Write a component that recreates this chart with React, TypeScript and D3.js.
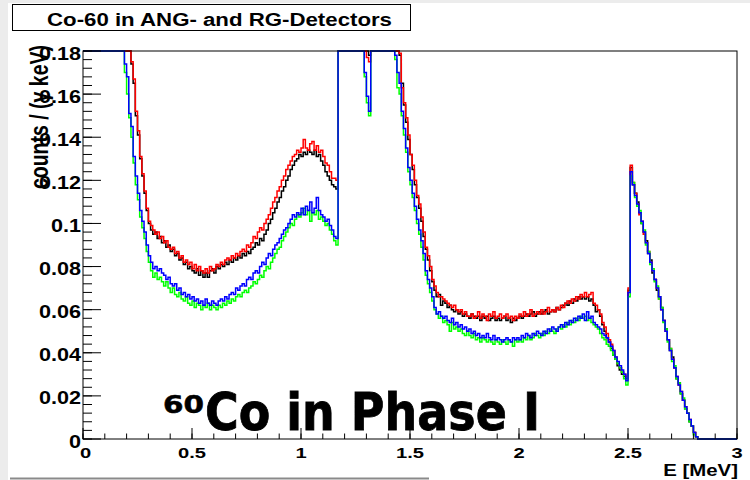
import React from "react";
import * as d3 from "d3";

// energy bins: 0.01 MeV wide, starting at 0 MeV; values in counts / (γ keV)
const binWidth = 0.01;
const xTickValues = [0, 0.5, 1, 1.5, 2, 2.5, 3];
const xTickLabels = ["0", "0.5", "1", "1.5", "2", "2.5", "3"];
const yTickValues = [0, 0.02, 0.04, 0.06, 0.08, 0.1, 0.12, 0.14, 0.16, 0.18];
const yTickLabels = ["0", "0.02", "0.04", "0.06", "0.08", "0.1", "0.12", "0.14", "0.16", "0.18"];

// values above 0.18 are off the scale and get clipped at the frame top
const blackCounts = [
  0.2, 0.2, 0.2, 0.2, 0.2, 0.2, 0.2, 0.2, 0.2, 0.2,
  0.2, 0.2, 0.2, 0.2, 0.2, 0.2, 0.2, 0.2, 0.2, 0.2,
  0.2, 0.2, 0.174, 0.165, 0.150, 0.141, 0.130, 0.122, 0.114, 0.106,
  0.100, 0.097, 0.095, 0.096, 0.093, 0.094, 0.091, 0.092, 0.089, 0.090,
  0.087, 0.088, 0.085, 0.086, 0.083, 0.084, 0.081, 0.082, 0.079, 0.080,
  0.078, 0.077, 0.079, 0.076, 0.078, 0.075, 0.077, 0.075, 0.078, 0.079,
  0.077, 0.080, 0.079, 0.081, 0.080, 0.082, 0.081, 0.083, 0.082, 0.084,
  0.083, 0.085, 0.084, 0.086, 0.085, 0.087, 0.086, 0.088, 0.089, 0.091,
  0.090, 0.093, 0.092, 0.095, 0.097, 0.100, 0.102, 0.105, 0.107, 0.110,
  0.112, 0.115, 0.117, 0.120, 0.122, 0.125, 0.127, 0.129, 0.130, 0.132,
  0.131, 0.133, 0.132, 0.134, 0.133, 0.132, 0.134, 0.131, 0.132, 0.129,
  0.127, 0.124, 0.122, 0.120, 0.118, 0.117, 0.116, 0.2, 0.2, 0.2,
  0.2, 0.2, 0.2, 0.2, 0.2, 0.2, 0.2, 0.2, 0.2, 0.2,
  0.2, 0.178, 0.2, 0.2, 0.2, 0.2, 0.2, 0.2, 0.2, 0.2,
  0.2, 0.2, 0.2, 0.2, 0.2, 0.178, 0.165, 0.155, 0.147, 0.139,
  0.132, 0.125, 0.118, 0.112, 0.107, 0.101, 0.094, 0.088, 0.083, 0.078,
  0.073, 0.069, 0.066, 0.067, 0.062, 0.064, 0.063, 0.061, 0.062, 0.060,
  0.059, 0.060, 0.058, 0.059, 0.057, 0.058, 0.057, 0.056, 0.058, 0.057,
  0.056, 0.057, 0.055, 0.057, 0.056, 0.057, 0.055, 0.056, 0.057, 0.055,
  0.056, 0.055, 0.056, 0.057, 0.055, 0.056, 0.054, 0.056, 0.055, 0.056,
  0.057, 0.056, 0.057, 0.058, 0.057, 0.058, 0.059, 0.057, 0.058, 0.059,
  0.058, 0.059, 0.060, 0.058, 0.059, 0.060, 0.059, 0.061, 0.060, 0.061,
  0.062, 0.063, 0.062, 0.064, 0.063, 0.065, 0.064, 0.066, 0.065, 0.066,
  0.065, 0.066, 0.064, 0.065, 0.062, 0.059, 0.060, 0.057, 0.053, 0.050,
  0.047, 0.045, 0.042, 0.039, 0.037, 0.034, 0.032, 0.030, 0.029, 0.028,
  0.069, 0.126, 0.118, 0.114, 0.110, 0.105, 0.100, 0.096, 0.092, 0.086,
  0.083, 0.077, 0.074, 0.069, 0.066, 0.061, 0.055, 0.051, 0.046, 0.041,
  0.038, 0.033, 0.028, 0.026, 0.021, 0.018, 0.014, 0.012, 0.008, 0.006,
  0.003, 0.001, 0, 0, 0, 0, 0, 0, 0, 0,
  0, 0, 0, 0, 0, 0, 0, 0, 0, 0,
];

const redCounts = [
  0.2, 0.2, 0.2, 0.2, 0.2, 0.2, 0.2, 0.2, 0.2, 0.2,
  0.2, 0.2, 0.2, 0.2, 0.2, 0.2, 0.2, 0.2, 0.2, 0.2,
  0.2, 0.2, 0.175, 0.167, 0.152, 0.143, 0.131, 0.123, 0.115, 0.107,
  0.101, 0.099, 0.097, 0.095, 0.096, 0.093, 0.094, 0.091, 0.092, 0.089,
  0.088, 0.089, 0.086, 0.087, 0.084, 0.085, 0.082, 0.083, 0.081, 0.082,
  0.079, 0.081, 0.078, 0.080, 0.078, 0.077, 0.079, 0.077, 0.080, 0.078,
  0.079, 0.081, 0.080, 0.082, 0.081, 0.083, 0.084, 0.083, 0.085, 0.084,
  0.086, 0.085, 0.087, 0.088, 0.087, 0.090, 0.089, 0.091, 0.094, 0.093,
  0.096, 0.098, 0.097, 0.100, 0.102, 0.104, 0.107, 0.110, 0.112, 0.115,
  0.117, 0.120, 0.122, 0.125, 0.127, 0.129, 0.131, 0.132, 0.134, 0.133,
  0.135, 0.139, 0.135, 0.134, 0.137, 0.138, 0.134, 0.136, 0.133, 0.134,
  0.131, 0.128, 0.127, 0.124, 0.121, 0.121, 0.120, 0.2, 0.2, 0.2,
  0.2, 0.2, 0.2, 0.2, 0.2, 0.2, 0.2, 0.2, 0.2, 0.2,
  0.177, 0.175, 0.2, 0.2, 0.2, 0.2, 0.2, 0.2, 0.2, 0.2,
  0.2, 0.2, 0.2, 0.2, 0.2, 0.179, 0.163, 0.156, 0.149, 0.141,
  0.132, 0.127, 0.120, 0.113, 0.109, 0.103, 0.096, 0.089, 0.085, 0.080,
  0.074, 0.071, 0.068, 0.066, 0.066, 0.065, 0.064, 0.063, 0.062, 0.061,
  0.062, 0.060, 0.059, 0.060, 0.058, 0.059, 0.057, 0.057, 0.058, 0.056,
  0.057, 0.059, 0.056, 0.058, 0.057, 0.055, 0.058, 0.057, 0.059, 0.056,
  0.057, 0.058, 0.056, 0.057, 0.058, 0.056, 0.057, 0.055, 0.057, 0.056,
  0.058, 0.057, 0.059, 0.057, 0.058, 0.060, 0.057, 0.058, 0.059, 0.058,
  0.060, 0.058, 0.059, 0.061, 0.059, 0.060, 0.059, 0.061, 0.060, 0.062,
  0.061, 0.063, 0.064, 0.063, 0.065, 0.064, 0.066, 0.065, 0.067, 0.066,
  0.068, 0.066, 0.067, 0.068, 0.063, 0.062, 0.060, 0.058, 0.054, 0.052,
  0.049, 0.046, 0.044, 0.041, 0.038, 0.035, 0.033, 0.031, 0.030, 0.029,
  0.070, 0.127, 0.119, 0.114, 0.109, 0.104, 0.101, 0.095, 0.091, 0.087,
  0.082, 0.078, 0.074, 0.070, 0.065, 0.060, 0.055, 0.050, 0.046, 0.042,
  0.037, 0.033, 0.029, 0.025, 0.022, 0.018, 0.015, 0.012, 0.009, 0.006,
  0.003, 0.001, 0, 0, 0, 0, 0, 0, 0, 0,
  0, 0, 0, 0, 0, 0, 0, 0, 0, 0,
];

const greenCounts = [
  0.2, 0.2, 0.2, 0.2, 0.2, 0.2, 0.2, 0.2, 0.2, 0.2,
  0.2, 0.2, 0.2, 0.2, 0.2, 0.2, 0.2, 0.2, 0.2, 0.170,
  0.160, 0.149, 0.140, 0.128, 0.118, 0.111, 0.103, 0.098, 0.093, 0.087,
  0.082, 0.078, 0.075, 0.077, 0.074, 0.075, 0.073, 0.071, 0.073, 0.070,
  0.068, 0.070, 0.067, 0.066, 0.068, 0.065, 0.064, 0.066, 0.063, 0.062,
  0.064, 0.061, 0.063, 0.062, 0.060, 0.062, 0.061, 0.063, 0.060, 0.062,
  0.061, 0.060, 0.062, 0.061, 0.063, 0.062, 0.064, 0.063, 0.065, 0.064,
  0.066, 0.067, 0.066, 0.068, 0.069, 0.068, 0.070, 0.071, 0.073, 0.072,
  0.074, 0.076, 0.075, 0.078, 0.080, 0.079, 0.082, 0.084, 0.086, 0.088,
  0.089, 0.092, 0.094, 0.096, 0.098, 0.100, 0.099, 0.102, 0.104, 0.103,
  0.105, 0.107, 0.104, 0.106, 0.101, 0.105, 0.104, 0.106, 0.102, 0.103,
  0.101, 0.099, 0.100, 0.097, 0.095, 0.092, 0.090, 0.2, 0.2, 0.2,
  0.2, 0.2, 0.2, 0.2, 0.2, 0.2, 0.2, 0.2, 0.2, 0.168,
  0.156, 0.150, 0.2, 0.2, 0.2, 0.2, 0.2, 0.2, 0.2, 0.2,
  0.2, 0.2, 0.2, 0.176, 0.163, 0.160, 0.150, 0.141, 0.133, 0.124,
  0.118, 0.112, 0.106, 0.100, 0.095, 0.089, 0.083, 0.076, 0.072, 0.068,
  0.064, 0.060, 0.058, 0.056, 0.057, 0.054, 0.055, 0.053, 0.050, 0.054,
  0.051, 0.052, 0.050, 0.051, 0.049, 0.048, 0.050, 0.048, 0.047, 0.049,
  0.046, 0.047, 0.045, 0.047, 0.046, 0.045, 0.046, 0.045, 0.044, 0.046,
  0.045, 0.044, 0.046, 0.045, 0.044, 0.046, 0.045, 0.043, 0.046, 0.045,
  0.046, 0.045, 0.047, 0.046, 0.048, 0.046, 0.047, 0.049, 0.048, 0.047,
  0.049, 0.048, 0.050, 0.049, 0.051, 0.050, 0.049, 0.051, 0.052, 0.051,
  0.053, 0.052, 0.054, 0.053, 0.055, 0.054, 0.056, 0.055, 0.057, 0.056,
  0.057, 0.055, 0.056, 0.054, 0.053, 0.052, 0.051, 0.049, 0.047, 0.046,
  0.044, 0.043, 0.041, 0.039, 0.037, 0.035, 0.033, 0.031, 0.028, 0.025,
  0.066, 0.122, 0.119, 0.112, 0.108, 0.106, 0.100, 0.097, 0.090, 0.087,
  0.081, 0.079, 0.073, 0.071, 0.065, 0.061, 0.054, 0.051, 0.045, 0.042,
  0.036, 0.034, 0.028, 0.026, 0.021, 0.019, 0.014, 0.012, 0.008, 0.006,
  0.002, 0.001, 0, 0, 0, 0, 0, 0, 0, 0,
  0, 0, 0, 0, 0, 0, 0, 0, 0, 0,
];

const blueCounts = [
  0.2, 0.2, 0.2, 0.2, 0.2, 0.2, 0.2, 0.2, 0.2, 0.2,
  0.2, 0.2, 0.2, 0.2, 0.2, 0.2, 0.2, 0.2, 0.2, 0.174,
  0.168, 0.151, 0.145, 0.131, 0.122, 0.114, 0.106, 0.101, 0.096, 0.090,
  0.085, 0.082, 0.079, 0.080, 0.078, 0.079, 0.077, 0.076, 0.074, 0.075,
  0.072, 0.071, 0.072, 0.069, 0.070, 0.067, 0.068, 0.066, 0.067, 0.065,
  0.066, 0.064, 0.065, 0.063, 0.064, 0.062, 0.065, 0.063, 0.062, 0.064,
  0.063, 0.062, 0.064, 0.065, 0.064, 0.066, 0.065, 0.067, 0.068, 0.067,
  0.070, 0.069, 0.071, 0.072, 0.071, 0.074, 0.075, 0.074, 0.077, 0.078,
  0.077, 0.080, 0.082, 0.081, 0.084, 0.086, 0.085, 0.088, 0.090, 0.091,
  0.093, 0.095, 0.097, 0.098, 0.100, 0.102, 0.104, 0.103, 0.105, 0.104,
  0.107, 0.104, 0.108, 0.106, 0.110, 0.105, 0.107, 0.112, 0.106, 0.104,
  0.103, 0.101, 0.102, 0.099, 0.097, 0.094, 0.093, 0.2, 0.2, 0.2,
  0.2, 0.2, 0.2, 0.2, 0.2, 0.2, 0.2, 0.2, 0.2, 0.170,
  0.159, 0.152, 0.2, 0.2, 0.2, 0.2, 0.2, 0.2, 0.2, 0.2,
  0.2, 0.2, 0.2, 0.178, 0.170, 0.165, 0.152, 0.144, 0.135, 0.126,
  0.120, 0.114, 0.108, 0.102, 0.097, 0.092, 0.086, 0.078, 0.074, 0.070,
  0.066, 0.061, 0.058, 0.059, 0.057, 0.056, 0.057, 0.055, 0.054, 0.056,
  0.053, 0.054, 0.052, 0.053, 0.051, 0.052, 0.050, 0.051, 0.049, 0.050,
  0.048, 0.049, 0.047, 0.048, 0.047, 0.049, 0.047, 0.046, 0.048, 0.046,
  0.047, 0.046, 0.045, 0.046, 0.047, 0.046, 0.045, 0.047, 0.046, 0.047,
  0.046, 0.048, 0.047, 0.049, 0.048, 0.047, 0.049, 0.048, 0.050, 0.049,
  0.048, 0.050, 0.049, 0.051, 0.050, 0.052, 0.051, 0.050, 0.052, 0.053,
  0.052, 0.054, 0.053, 0.055, 0.054, 0.056, 0.055, 0.057, 0.056, 0.058,
  0.055, 0.059, 0.056, 0.057, 0.054, 0.053, 0.052, 0.051, 0.049, 0.048,
  0.047, 0.045, 0.043, 0.041, 0.038, 0.036, 0.034, 0.032, 0.030, 0.027,
  0.068, 0.124, 0.118, 0.113, 0.109, 0.105, 0.101, 0.096, 0.091, 0.086,
  0.082, 0.078, 0.074, 0.070, 0.066, 0.060, 0.055, 0.050, 0.046, 0.041,
  0.037, 0.033, 0.029, 0.025, 0.022, 0.018, 0.015, 0.012, 0.009, 0.006,
  0.003, 0.001, 0, 0, 0, 0, 0, 0, 0, 0,
  0, 0, 0, 0, 0, 0, 0, 0, 0, 0,
];

// drawing order: black, red, then green, blue on top
const series = [
  { name: "black", values: blackCounts, color: "#000000" },
  { name: "red", values: redCounts, color: "#ff0000" },
  { name: "green", values: greenCounts, color: "#00ff00" },
  { name: "blue", values: blueCounts, color: "#0000ff" },
];

const W = 750;
const H = 480;
const frame = { left: 83, right: 737, top: 51, bottom: 439 };
const font = "'Liberation Sans', Arial, Helvetica, sans-serif";

export default function App() {
  const x = d3.scaleLinear().domain([0, 3]).range([frame.left, frame.right]);
  const y = d3.scaleLinear().domain([0, 0.18]).range([frame.bottom, frame.top]);
  const yMax = y.domain()[1];

  const histLine = d3
    .line<[number, number]>()
    .x((d) => x(d[0]))
    .y((d) => y(Math.min(d[1], yMax)))
    .curve(d3.curveStepAfter);

  const toPoints = (vals: number[]): [number, number][] => {
    const pts = vals.map((v, i) => [i * binWidth, v] as [number, number]);
    pts.push([vals.length * binWidth, vals[vals.length - 1]]);
    return pts;
  };

  // minor ticks
  const xMinor = d3.range(0, 3.0001, 0.1);
  const yMinor = d3.range(0, 0.18001, 0.004);

  return (
    <svg
      width={W}
      height={H}
      style={{ position: "absolute", left: 0, top: 0, display: "block", background: "#fff" }}
    >
      {/* canvas edges */}
      <rect x={0} y={0} width={W} height={3} fill="#ececec" />
      <rect x={0} y={0} width={8} height={H} fill="#ececec" />
      <line x1={10} x2={429} y1={478.5} y2={478.5} stroke="#8a8a8a" strokeWidth={2} />

      {/* title box */}
      <rect x={12.5} y={4.5} width={398} height={26} fill="#fff" stroke="#000" strokeWidth={1} />
      <text
        x={219.5}
        y={26}
        textAnchor="middle"
        fontFamily={font}
        fontWeight="bold"
        fontSize={18}
        textLength={345}
        lengthAdjust="spacingAndGlyphs"
      >
        Co-60 in ANG- and RG-Detectors
      </text>

      {/* histograms */}
      {series.map((s) => (
        <path
          key={s.name}
          d={histLine(toPoints(s.values)) || ""}
          fill="none"
          stroke={s.color}
          strokeWidth={1.5}
        />
      ))}

      {/* frame */}
      <rect
        x={frame.left}
        y={frame.top}
        width={frame.right - frame.left}
        height={frame.bottom - frame.top}
        fill="none"
        stroke="#000"
        strokeWidth={1}
      />

      {/* x axis ticks */}
      {xMinor.map((t, i) => (
        <line key={"xm" + i} x1={x(t)} x2={x(t)} y1={frame.bottom} y2={frame.bottom - 5.5} stroke="#000" />
      ))}
      {xTickValues.map((t) => (
        <line key={"xM" + t} x1={x(t)} x2={x(t)} y1={frame.bottom} y2={frame.bottom - 11} stroke="#000" />
      ))}
      {xTickValues.map((t, i) => (
        <text
          key={"xl" + t}
          transform={`translate(${x(t) + (i === 0 ? 2.5 : 0)},458) scale(1.3,1)`}
          textAnchor="middle"
          fontFamily={font}
          fontWeight="bold"
          fontSize={15.5}
        >
          {xTickLabels[i]}
        </text>
      ))}

      {/* y axis ticks */}
      {yMinor.map((t, i) => (
        <line key={"ym" + i} x1={frame.left} x2={frame.left + 9} y1={y(t)} y2={y(t)} stroke="#000" />
      ))}
      {yTickValues.map((t) => (
        <line key={"yM" + t} x1={frame.left} x2={frame.left + 18} y1={y(t)} y2={y(t)} stroke="#000" />
      ))}
      {yTickValues.map((t, i) => (
        <text
          key={"yl" + t}
          transform={`translate(81,${y(t) + 8.5}) scale(1.2,1)`}
          textAnchor="end"
          fontFamily={font}
          fontWeight="bold"
          fontSize={18}
        >
          {yTickLabels[i]}
        </text>
      ))}

      {/* axis titles */}
      <text
        transform={`translate(48,45) scale(1.3,1) rotate(-90)`}
        textAnchor="end"
        fontFamily={font}
        fontWeight="bold"
        fontSize={19.5}
      >
        counts / (γ keV)
      </text>
      <text
        transform={`translate(738,476) scale(1.2,1)`}
        textAnchor="end"
        fontFamily={font}
        fontWeight="bold"
        fontSize={17}
      >
        E [MeV]
      </text>

      {/* annotation */}
      <text
        x={163}
        y={413}
        fontFamily="'DejaVu Sans', sans-serif"
        fontWeight="bold"
        fontSize={24}
        textLength={41}
        lengthAdjust="spacingAndGlyphs"
        stroke="#000"
        strokeWidth={0.5}
      >
        60
      </text>
      <text
        x={205}
        y={430}
        fontFamily="'DejaVu Sans', sans-serif"
        fontWeight="bold"
        fontSize={51}
        textLength={335}
        lengthAdjust="spacingAndGlyphs"
        stroke="#000"
        strokeWidth={0.8}
      >
        Co in Phase I
      </text>
    </svg>
  );
}
